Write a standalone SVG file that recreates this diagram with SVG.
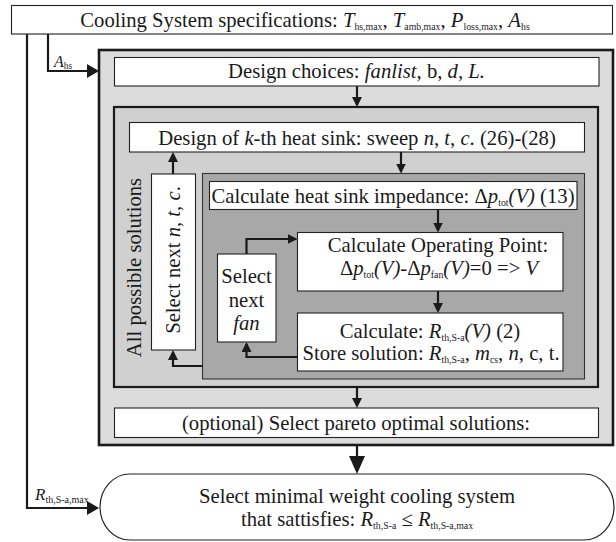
<svg xmlns="http://www.w3.org/2000/svg" width="616" height="542" viewBox="0 0 616 542">
<style>
.t{font-family:"Liberation Serif","Times New Roman",serif;font-size:20.7px;fill:#1a1a1a}
.m{text-anchor:middle}
.i{font-style:italic}
.s{font-size:9.8px}
.w{fill:#fff;stroke:#222;stroke-width:1.1}
.c{fill:none;stroke:#1a1a1a;stroke-width:2.2}
</style>
<defs>
<marker id="as" viewBox="0 0 10 10" markerWidth="10" markerHeight="10" refX="8" refY="5" orient="auto" markerUnits="userSpaceOnUse"><path d="M0,0 L10,5 L0,10 z" fill="#1a1a1a"/></marker>
<marker id="am" viewBox="0 0 12 14" markerWidth="12" markerHeight="14" refX="10" refY="7" orient="auto" markerUnits="userSpaceOnUse"><path d="M0,0 L12,7 L0,14 z" fill="#1a1a1a"/></marker>
<marker id="ab" viewBox="0 0 18 16" markerWidth="18" markerHeight="16" refX="15" refY="8" orient="auto" markerUnits="userSpaceOnUse"><path d="M0,0 L18,8 L0,16 z" fill="#1a1a1a"/></marker>
</defs>

<g id="spec">
<rect class="w" x="11.5" y="5.5" width="601" height="28.5"/>
<text class="t m" x="305" y="27">Cooling System specifications: <tspan class="i">T</tspan><tspan class="s" dy="3">hs,max</tspan><tspan dy="-3">, </tspan><tspan class="i">T</tspan><tspan class="s" dy="3">amb,max</tspan><tspan dy="-3">, </tspan><tspan class="i">P</tspan><tspan class="s" dy="3">loss,max</tspan><tspan dy="-3">, </tspan><tspan class="i">A</tspan><tspan class="s" dy="3">hs</tspan></text>
</g>

<g id="outer">
<rect x="99" y="50" width="514" height="395" fill="#dcdcdc" stroke="#1a1a1a" stroke-width="2.6"/>
</g>

<g id="design-choices">
<rect class="w" x="114.5" y="57.5" width="484.5" height="28.5"/>
<text class="t m" x="356.5" y="78">Design choices: <tspan class="i">fanlist</tspan>, b, <tspan class="i">d, L.</tspan></text>
</g>

<g id="all-solutions">
<rect x="114" y="107" width="484" height="280" fill="#d0d0d0" stroke="#1a1a1a" stroke-width="2.2"/>
<text class="t m" transform="translate(141,267.5) rotate(-90)" x="0" y="0">All possible solutions</text>
</g>

<g id="design-kth">
<rect class="w" x="129.5" y="122.5" width="455" height="29.5"/>
<text class="t m" x="357" y="145">Design of <tspan class="i">k</tspan>-th heat sink: sweep <tspan class="i">n</tspan>, <tspan class="i">t</tspan>, <tspan class="i">c</tspan>. (26)-(28)</text>
</g>

<g id="select-ntc">
<rect class="w" x="151.5" y="174" width="44" height="176"/>
<text class="t m" transform="translate(180,260) rotate(-90)" x="0" y="0">Select next <tspan class="i">n</tspan>, <tspan class="i">t</tspan>, <tspan class="i">c</tspan>.</text>
</g>

<g id="fan-loop">
<rect x="202.5" y="173.5" width="382" height="205.5" fill="#a8a8a8" stroke="#333" stroke-width="1.1"/>
</g>

<g id="impedance">
<rect class="w" x="209.5" y="181.5" width="367.5" height="28"/>
<text class="t m" x="393" y="203">Calculate heat sink impedance: Δ<tspan class="i">p</tspan><tspan class="s" dy="3">tot</tspan><tspan class="i" dy="-3">(V)</tspan> (13)</text>
</g>

<g id="select-fan">
<rect class="w" x="217.5" y="254" width="58.5" height="88"/>
<text class="t m" x="246.5" y="283">Select</text>
<text class="t m" x="246.5" y="307">next</text>
<text class="t m i" x="246.5" y="330">fan</text>
</g>

<g id="operating">
<rect class="w" x="297.5" y="232.5" width="265.5" height="58.5"/>
<text class="t m" x="438" y="252">Calculate Operating Point:</text>
<text class="t m" x="439" y="275">Δ<tspan class="i">p</tspan><tspan class="s" dy="3">tot</tspan><tspan class="i" dy="-3">(V)</tspan>-Δ<tspan class="i">p</tspan><tspan class="s" dy="3">fan</tspan><tspan class="i" dy="-3">(V)</tspan>=0 =&gt; <tspan class="i">V</tspan></text>
</g>

<g id="calculate">
<rect class="w" x="297.5" y="313" width="265.5" height="58"/>
<text class="t m" x="430" y="338">Calculate: <tspan class="i">R</tspan><tspan class="s" dy="3">th,S-a</tspan><tspan class="i" dy="-3">(V)</tspan> (2)</text>
<text class="t m" x="431" y="360">Store solution: <tspan class="i">R</tspan><tspan class="s" dy="3">th,S-a</tspan><tspan dy="-3">, </tspan><tspan class="i">m</tspan><tspan class="s" dy="3">cs</tspan><tspan dy="-3">, </tspan><tspan class="i">n</tspan>, c, t.</text>
</g>

<g id="pareto">
<rect class="w" x="114.5" y="408" width="484" height="29.5"/>
<text class="t m" x="356" y="430">(optional) Select pareto optimal solutions:</text>
</g>

<g id="select-min">
<rect x="100" y="474" width="514" height="66" rx="30" ry="33" fill="#fff" stroke="#222" stroke-width="1.2"/>
<text class="t m" x="357" y="503">Select minimal weight cooling system</text>
<text class="t m" x="357" y="526">that sattisfies: <tspan class="i">R</tspan><tspan class="s" dy="3">th,S-a</tspan><tspan dy="-3"> ≤ </tspan><tspan class="i">R</tspan><tspan class="s" dy="3">th,S-a,max</tspan></text>
</g>

<g id="connectors">
<path class="c" d="M27,34 V508 H97" stroke-width="2.6" marker-end="url(#am)"/>
<path class="c" d="M48,34 V71 H97" stroke-width="2.6" marker-end="url(#am)"/>
<path class="c" d="M357,86 V105" marker-end="url(#as)"/>
<path class="c" d="M401,152 V171.5" marker-end="url(#as)"/>
<path class="c" d="M438,210 V230.5" marker-end="url(#as)"/>
<path class="c" d="M438,291 V311" marker-end="url(#as)"/>
<path class="c" d="M173,174 V154" marker-end="url(#as)"/>
<path class="c" d="M202.5,366 H173 V352" marker-end="url(#as)"/>
<path class="c" d="M297.5,357 H246.5 V344" marker-end="url(#as)"/>
<path class="c" d="M246.5,254 V239 H295.5" marker-end="url(#as)"/>
<path class="c" d="M357,387 V406" marker-end="url(#as)"/>
<path class="c" d="M357,446 V471" stroke-width="4.5" marker-end="url(#ab)"/>
<text class="t i" x="54" y="67" style="font-size:16px">A<tspan class="s" style="font-style:normal;font-size:9.5px" dy="2">hs</tspan></text>
<text class="t i" x="35" y="500" style="font-size:17px">R<tspan style="font-style:normal;font-size:10px" dy="3">th,S-a,max</tspan></text>
</g>
</svg>
